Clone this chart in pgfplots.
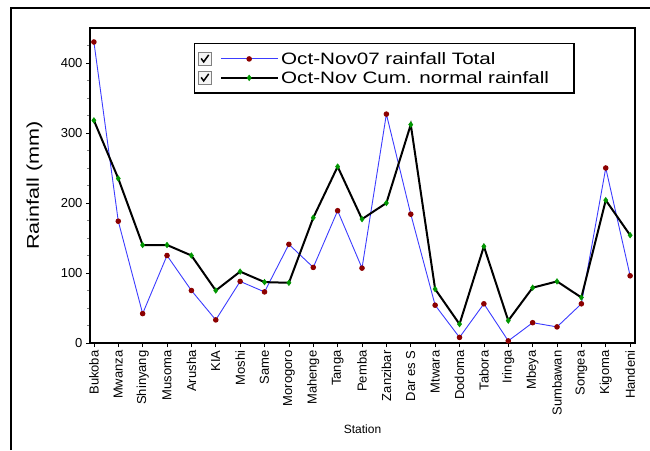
\documentclass[border=0pt]{standalone}
\usepackage{fontspec}
\setmainfont{Liberation Sans}
\usepackage{pgfplots}
\pgfplotsset{compat=1.18}
\definecolor{totblue}{RGB}{60,60,255}
\definecolor{mkred}{RGB}{140,0,0}
\definecolor{mkgreen}{RGB}{0,150,0}
\begin{document}
\begin{tikzpicture}
\useasboundingbox (0pt,0pt) rectangle (650pt,450pt);
\draw[line width=2.4pt] (11pt,0pt) -- (11pt,442pt) -- (650pt,442pt);
\begin{axis}[
  at={(90pt,107pt)}, anchor=south west,
  scale only axis, width=545pt, height=315pt,
  xmin=-0.16, xmax=22.2, ymin=0, ymax=450,
  axis line style={line width=1.8pt},
  tick align=outside, tick pos=left,
  major tick length=4pt, minor tick length=3pt,
  major tick style={black, line width=0.7pt},
  minor tick style={gray, line width=0.6pt},
  ytick={0,100,200,300,400},
  minor ytick={25,50,75,125,150,175,225,250,275,325,350,375,425},
  xtick={0,...,22},
  xticklabels={Bukoba,Mwanza,Shinyang,Musoma,Arusha,KIA,Moshi,Same,Morogoro,Mahenge,Tanga,Pemba,Zanzibar,Dar es S,Mtwara,Dodoma,Tabora,Iringa,Mbeya,Sumbawan,Songea,Kigoma,Handeni},
  x tick label style={rotate=90, anchor=east, font=\fontsize{13}{15}\selectfont},
  y tick label style={font=\fontsize{13}{15}\selectfont},
  /pgf/number format/assume math mode=true,
  xlabel={Station},
  every axis x label/.style={at={(axis description cs:0.5,-0.273)}, anchor=center, font=\fontsize{12}{14}\selectfont},
  ylabel={\scalebox{1.27}[1]{Rainfall (mm)}},
  every axis y label/.style={at={(axis description cs:-0.1018,0.5)}, rotate=90, anchor=center, font=\fontsize{17}{20}\selectfont},
  legend style={at={(axis description cs:0.1908,0.9524)}, anchor=north west,
    draw=black, line width=1.4pt, fill=white, inner xsep=3pt, inner ysep=6.5pt,
    row sep=1.5pt,
    nodes={inner sep=2pt, anchor=west, font=\fontsize{16.5}{19}\selectfont}},
  legend cell align=left,
  legend image code/.code={
    \draw[draw=gray, fill=gray!8, line width=1pt, solid, mark=none] (0pt,-6.5pt) rectangle (13pt,6.5pt);
    \draw[black, line width=1.5pt, solid, mark=none] (3pt,0.5pt) -- (5.5pt,-3pt) -- (10.5pt,4pt);
    \draw[mark repeat=2,mark phase=2,#1] plot coordinates {(23pt,0pt) (51pt,0pt) (80pt,0pt)};
  },
]
\addplot[totblue, line width=0.9pt, mark=*, mark size=2.3pt, mark options={mkred, draw=mkred, fill=mkred}] coordinates {
(0,430) (1,174) (2,42) (3,125) (4,75) (5,33) (6,88) (7,73) (8,141) (9,108)
(10,189) (11,107) (12,327) (13,184) (14,54) (15,8) (16,56) (17,3) (18,29)
(19,23) (20,56) (21,250) (22,96)};
\addlegendentry{\scalebox{1.25}[1]{Oct-Nov07 rainfall Total}}
\addplot[black, line width=2pt, mark=diamond*, mark size=2.8pt, mark options={mkgreen, draw=mkgreen, fill=mkgreen, line width=0.5pt}] coordinates {
(0,318) (1,235) (2,140) (3,140) (4,125) (5,75) (6,102) (7,87) (8,86) (9,179)
(10,252) (11,177) (12,200) (13,312) (14,77) (15,27) (16,138) (17,32) (18,79)
(19,88) (20,65) (21,204) (22,154)};
\addlegendentry{\scalebox{1.25}[1]{Oct-Nov Cum. normal rainfall}\rule{20pt}{0pt}}
\end{axis}
\end{tikzpicture}
\end{document}
